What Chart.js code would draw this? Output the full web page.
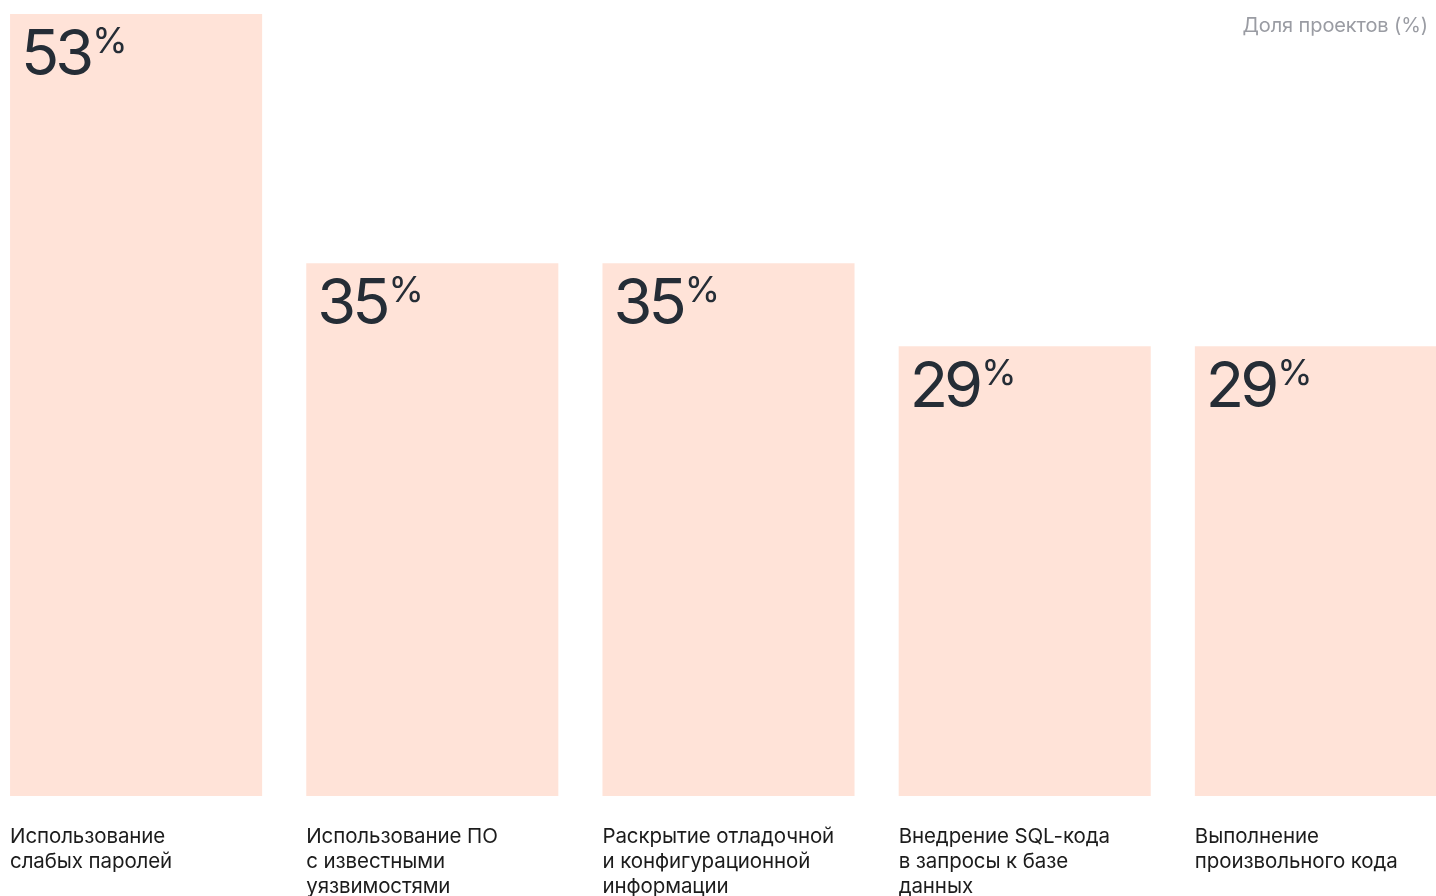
<!DOCTYPE html>
<html>
<head>
<meta charset="utf-8">
<script src="https://cdn.jsdelivr.net/npm/chart.js@4"></script>
<style>
  html, body { margin: 0; padding: 0; background: #fff; overflow: hidden; }
  #wrap { position: absolute; left: -12px; top: 0; width: 1481px; height: 896px; }
</style>
</head>
<body>
<div id="wrap"><canvas id="barChart"></canvas></div>
<script>
const categories = [
    ['Использование', 'слабых паролей'],
    ['Использование ПО', 'с известными', 'уязвимостями'],
    ['Раскрытие отладочной', 'и конфигурационной', 'информации'],
    ['Внедрение SQL-кода', 'в запросы к базе', 'данных'],
    ['Выполнение', 'произвольного кода']
];
const values = [53, 35, 35, 29, 29];
const axisTitle = 'Доля проектов (%)';

// подписи: число + маленький знак процента, категории под столбцами, заголовок справа
const labelsPlugin = {
    id: 'labels',
    afterDatasetsDraw(chart) {
        const ctx = chart.ctx;
        const bars = chart.getDatasetMeta(0).data;
        ctx.save();
        ctx.textBaseline = 'alphabetic';
        ctx.textAlign = 'left';
        bars.forEach((bar, i) => {
            const left = bar.x - bar.width / 2;
            // значение
            ctx.fillStyle = '#252d36';
            ctx.font = '400 63px Inter';
            ctx.letterSpacing = '-4px';
            const txt = String(values[i]);
            ctx.fillText(txt, left + 11, bar.y + 61);
            const w = ctx.measureText(txt).width;
            ctx.font = '400 36px Inter';
            ctx.letterSpacing = '-1px';
            ctx.fillText('%', left + 11 + w + 2, bar.y + 39);
            // категория
            ctx.fillStyle = '#1c1c1c';
            ctx.font = '400 20.5px Inter';
            ctx.letterSpacing = '-0.1px';
            categories[i].forEach((line, j) => {
                ctx.fillText(line, left, 843 + j * 25);
            });
        });
        ctx.fillStyle = '#9a9ca3';
        ctx.font = '400 20px Inter';
        ctx.letterSpacing = '-0.1px';
        ctx.textAlign = 'right';
        ctx.fillText(axisTitle, 1440, 32);
        ctx.restore();
    }
};

const ctxBar = document.getElementById('barChart').getContext('2d');
const barChart = new Chart(ctxBar, {
    type: 'bar',
    data: {
        labels: categories,
        datasets: [{
            data: values,
            backgroundColor: '#ffe3d8',
            borderWidth: 0,
            base: -3.5,
            barPercentage: 0.851,
            categoryPercentage: 1
        }]
    },
    options: {
        responsive: true,
        maintainAspectRatio: false,
        animation: false,
        layout: { padding: { top: 14, bottom: 100, left: 0, right: 0 } },
        plugins: {
            legend: { display: false },
            tooltip: { enabled: false }
        },
        scales: {
            x: { display: false },
            y: { display: false, min: -3.5, max: 53 }
        }
    },
    plugins: [labelsPlugin]
});
</script>
</body>
</html>
